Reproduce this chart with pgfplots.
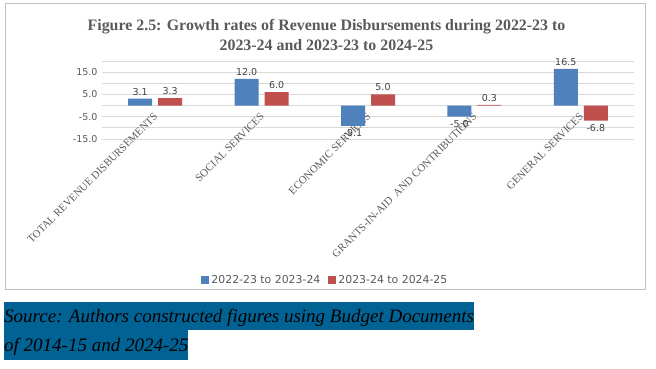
\documentclass[border=0pt]{standalone}
\usepackage{pgfplots}
\pgfplotsset{compat=1.18}
\usepackage{fontspec}
\setmainfont{Liberation Serif}
\newfontfamily\dejavu{DejaVu Sans}
\definecolor{cblue}{HTML}{4F81BD}
\definecolor{cred}{HTML}{C0504D}
\definecolor{gridgray}{HTML}{D9D9D9}
\definecolor{framegray}{HTML}{BFBFBF}
\definecolor{titlegray}{HTML}{595959}
\definecolor{labgray}{HTML}{404040}
\definecolor{srcblue}{RGB}{0,99,148}
\begin{document}
\begin{tikzpicture}[x=1pt,y=1pt]
\path[use as bounding box] (0,0) rectangle (656,-368);
\draw[color=framegray, line width=0.8pt] (5.5,-3.5) rectangle (645,-289);
\node[font=\bfseries\fontsize{15.9}{18}\selectfont, text=titlegray] at (326.5,-27) {Figure 2.5: Growth rates of Revenue Disbursements during 2022-23 to};
\node[font=\bfseries\fontsize{15.9}{18}\selectfont, text=titlegray] at (326.5,-45) {2023-24 and 2023-23 to 2024-25};
\begin{axis}[
  at={(102pt,-139pt)}, anchor=south west,
  scale only axis, width=532pt, height=78pt,
  xmin=0.5, xmax=5.5, ymin=-15, ymax=20,
  enlargelimits=false,
  axis x line=middle, axis y line=left,
  x axis line style={draw=gridgray, -},
  y axis line style={draw=none},
  major tick length=0pt, minor tick length=0pt,
  ytick={-15,-5,5,15},
  minor ytick={-10,0,10,20},
  ymajorgrids, yminorgrids,
  major grid style={draw=gridgray, line width=0.8pt},
  minor grid style={draw=gridgray, line width=0.8pt},
  /pgf/number format/assume math mode=true,
  yticklabel={\pgfmathprintnumber[fixed,fixed zerofill,precision=1]{\tick}},
  yticklabel style={font=\dejavu\fontsize{9.5}{11}\selectfont, text=titlegray, xshift=-1pt},
  xtick={1,2,3,4,5},
  xticklabels={TOTAL REVENUE DISBURSEMENTS, SOCIAL SERVICES, ECONOMIC SERVICES, GRANTS-IN-AID\ \ AND CONTRIBUTIONS, GENERAL SERVICES},
  xticklabel style={xshift=-2pt, yshift=-5pt, rotate=45, anchor=north east, font=\fontsize{10.8}{12}\selectfont, text=titlegray, inner sep=1pt},
  ybar=6pt, bar width=24pt,
  nodes near coords,
  nodes near coords style={font=\dejavu\fontsize{9.5}{11}\selectfont, text=labgray, /pgf/number format/.cd, fixed, fixed zerofill, precision=1, assume math mode=true},
  legend columns=2,
  legend style={at={(axis description cs:0.42,-1.806)}, anchor=center, draw=none, font=\dejavu\fontsize{10.9}{12}\selectfont, text=titlegray, /tikz/every even column/.append style={column sep=6pt}},
  legend image code/.code={\fill[#1] (0pt,-4pt) rectangle (8pt,4pt);},
]
\addplot[fill=cblue, draw=none] coordinates {(1,3.1) (2,12.0) (3,-9.1) (4,-5.0) (5,16.5)};
\addplot[fill=cred, draw=none] coordinates {(1,3.3) (2,6.0) (3,5.0) (4,0.3) (5,-6.8)};
\legend{2022-23 to 2023-24, 2023-24 to 2024-25}
\end{axis}
\node[fill=srcblue, inner xsep=0pt, inner ysep=0pt, anchor=north west, text height=20pt, text depth=8pt, font=\itshape\fontsize{19}{22}\selectfont] at (4,-302) {Source: Authors constructed figures using Budget Documents};
\node[fill=srcblue, inner xsep=0pt, inner ysep=0pt, anchor=north west, text height=21pt, text depth=9pt, font=\itshape\fontsize{19}{22}\selectfont] at (4,-330) {of 2014-15 and 2024-25};
\end{tikzpicture}
\end{document}
